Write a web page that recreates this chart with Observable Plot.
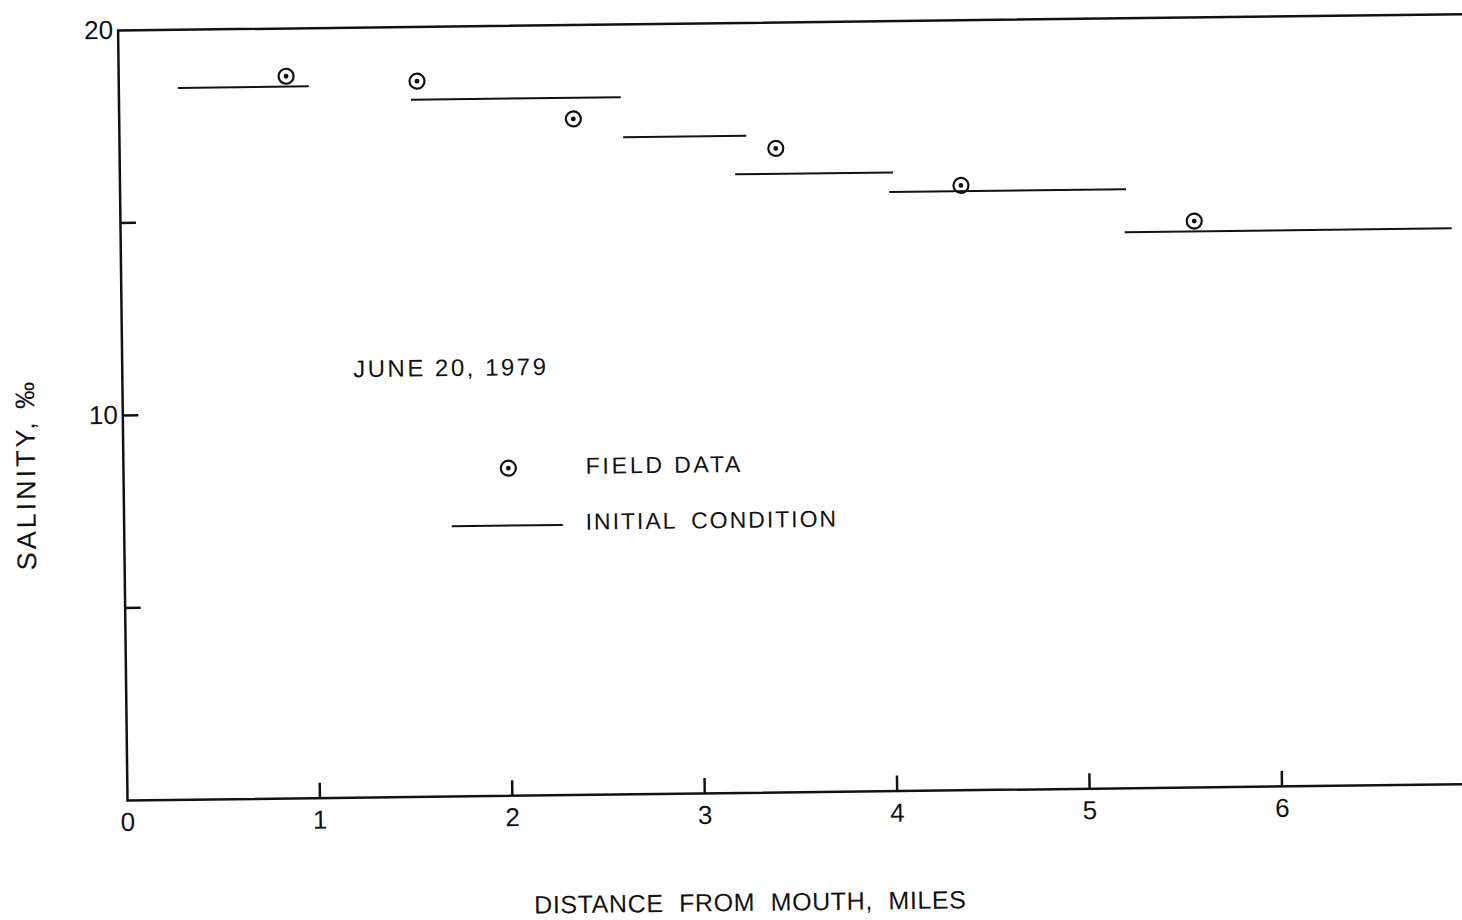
<!DOCTYPE html>
<html>
<head>
<meta charset="utf-8">
<script src="https://cdn.jsdelivr.net/npm/d3@7"></script>
<script src="https://cdn.jsdelivr.net/npm/@observablehq/plot@0.6"></script>
<style>
  html, body { margin: 0; padding: 0; background: #fff; overflow: hidden; width: 1462px; height: 920px; }
  #chart { position: relative; width: 1462px; height: 920px; overflow: hidden; background: #fff; }
  #chart svg { position: absolute; left: 0; top: 0; max-width: none !important;
               transform-origin: 127px 800px; transform: rotate(-0.7deg); }
</style>
</head>
<body>
<div id="chart"></div>
<script>
// Field observations: distance from mouth (miles) and salinity (‰)
const fieldMiles    = [0.87, 1.55, 2.36, 3.41, 4.37, 5.58];
const fieldSalinity = [18.76, 18.59, 17.56, 16.73, 15.71, 14.71];

// Initial condition: piecewise-constant salinity over river reaches
const reachStart    = [0.31, 1.52, 2.62, 3.20, 4.00, 5.22];
const reachEnd      = [0.99, 2.61, 3.26, 4.02, 5.23, 6.92];
const reachSalinity = [18.49, 18.11, 17.07, 16.07, 15.56, 14.44];

// Axis ticks
const xTickLabels = [0, 1, 2, 3, 4, 5, 6];
const xTickMarks  = [1, 2, 3, 4, 5, 6];
const yTickLabels = [10, 20];
const yTickMarks  = [5, 10, 15];

const field = fieldMiles.map((m, i) => ({miles: m, salinity: fieldSalinity[i]}));
const reaches = reachStart.map((s, i) => ({x1: s, x2: reachEnd[i], salinity: reachSalinity[i]}));

const ink = "#111";
const font = "'Liberation Sans', Arial, Helvetica, sans-serif";
const intFormat = d => String(d);

const chart = Plot.plot({
  width: 1490,
  height: 920,
  marginLeft: 127,
  marginRight: 16,
  marginTop: 30,
  marginBottom: 120,
  style: {fontFamily: font, color: ink, background: "#fff", overflow: "visible", maxWidth: "none"},
  x: {domain: [0, 7]},
  y: {domain: [0, 20]},
  marks: [
    Plot.frame({stroke: ink, strokeWidth: 2.5}),
    // inward tick marks
    Plot.axisX(xTickMarks, {tickSize: 15, dy: -15, fill: "none", label: null, stroke: ink, strokeWidth: 2.5}),
    Plot.axisY(yTickMarks, {tickSize: 16, dx: 16, fill: "none", label: null, stroke: ink, strokeWidth: 2.5}),
    // tick labels
    Plot.axisX(xTickLabels, {tickSize: 0, tickPadding: 12, fontSize: 26, label: null, fill: ink, tickFormat: intFormat}),
    Plot.axisY(yTickLabels, {tickSize: 0, tickPadding: 5, fontSize: 26, label: null, fill: ink, tickFormat: intFormat}),
    // axis titles
    Plot.text(["DISTANCE FROM MOUTH, MILES"], {text: d => d, frameAnchor: "bottom", dx: -52, dy: 110,
      textAnchor: "middle", lineAnchor: "middle", fontSize: 25, fill: ink}),
    Plot.text(["SALINITY, ‰"], {text: d => d, frameAnchor: "left", rotate: -90, dx: -97, dy: 58,
      textAnchor: "middle", lineAnchor: "middle", fontSize: 27, fill: ink}),
    // initial condition
    Plot.ruleY(reaches, {x1: "x1", x2: "x2", y: "salinity", stroke: ink, strokeWidth: 2}),
    // field data
    Plot.dot(field, {x: "miles", y: "salinity", r: 7.5, stroke: ink, strokeWidth: 2.2, fill: "none"}),
    Plot.dot(field, {x: "miles", y: "salinity", r: 2.4, fill: ink}),
    // date note
    Plot.text([{x: 1.2, y: 11.12, t: "JUNE 20, 1979"}], {x: "x", y: "y", text: "t", textAnchor: "start",
      fontSize: 24, fill: ink}),
    // legend
    Plot.dot([{x: 2.0, y: 8.51}], {x: "x", y: "y", r: 7.5, stroke: ink, strokeWidth: 2.2, fill: "none"}),
    Plot.dot([{x: 2.0, y: 8.51}], {x: "x", y: "y", r: 2.4, fill: ink}),
    Plot.text([{x: 2.402, y: 8.53, t: "FIELD DATA"}], {x: "x", y: "y", text: "t", textAnchor: "start",
      fontSize: 23, fill: ink}),
    Plot.ruleY([{x1: 1.705, x2: 2.282, y: 7.02}], {x1: "x1", x2: "x2", y: "y", stroke: ink, strokeWidth: 2}),
    Plot.text([{x: 2.398, y: 7.08, t: "INITIAL CONDITION"}], {x: "x", y: "y", text: "t", textAnchor: "start",
      fontSize: 23, fill: ink})
  ]
});

// widen the lettering like the hand-stenciled labels
const spacing = {
  "JUNE 20, 1979": "2.5px",
  "FIELD DATA": "2.8px",
  "INITIAL CONDITION": "2px",
  "DISTANCE FROM MOUTH, MILES": "0.6px",
  "SALINITY, ‰": "3px"
};
d3.select(chart).selectAll("text").each(function() {
  const s = spacing[this.textContent];
  if (s) d3.select(this).style("letter-spacing", s);
  if (this.textContent === "DISTANCE FROM MOUTH, MILES") d3.select(this).style("word-spacing", "8px");
  if (this.textContent === "INITIAL CONDITION") d3.select(this).style("word-spacing", "6px");
});

document.getElementById("chart").appendChild(chart);
</script>
</body>
</html>
